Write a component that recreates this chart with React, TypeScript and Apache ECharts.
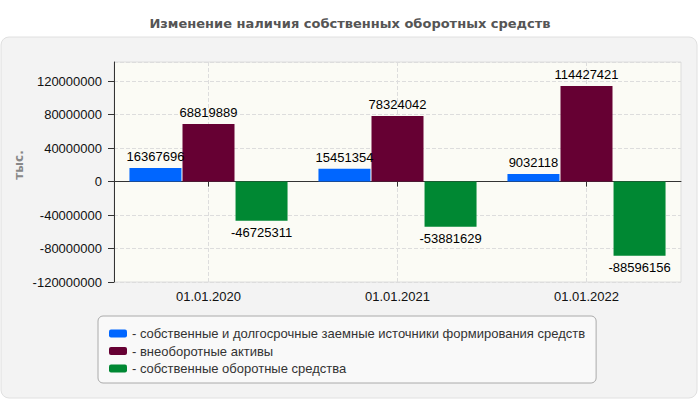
import { useEffect, useRef } from 'react'
import * as echarts from 'echarts'

// ---------- данные ----------
const categories = ['01.01.2020', '01.01.2021', '01.01.2022']

const seriesNames = [
  'собственные и долгосрочные заемные источники формирования средств',
  'внеоборотные активы',
  'собственные оборотные средства',
]

const ownAndLongTerm = [16367696, 15451354, 9032118]
const nonCurrentAssets = [68819889, 78324042, 114427421]
const ownWorkingCapital = [-46725311, -53881629, -88596156]

const COLORS = ['#0066ff', '#660033', '#008833']
const FONT = '"Liberation Sans", Arial, sans-serif'
const WIDE_FONT = '"DejaVu Sans", Verdana, sans-serif'

function toBarData(values: number[]) {
  return values.map((v) => ({
    value: v,
    label: { position: v < 0 ? ('bottom' as const) : ('top' as const) },
  }))
}

export default function App() {
  const ref = useRef<HTMLDivElement>(null)

  useEffect(() => {
    document.body.style.margin = '0'
    if (!ref.current) return
    const chart = echarts.init(ref.current, undefined, { renderer: 'svg' })

    const allValues = [ownAndLongTerm, nonCurrentAssets, ownWorkingCapital]

    const option: echarts.EChartsOption = {
      animation: false,
      backgroundColor: '#ffffff',
      textStyle: { fontFamily: FONT },
      title: {
        text: 'Изменение наличия собственных оборотных средств',
        left: 'center',
        top: 12,
        textStyle: {
          fontSize: 13,
          fontWeight: 'bold',
          color: '#555555',
          fontFamily: WIDE_FONT,
        },
      },
      graphic: [
        {
          type: 'rect',
          z: -100,
          silent: true,
          shape: { x: 1, y: 37, width: 696, height: 361, r: 8 },
          style: { fill: '#f3f3f3', stroke: '#e0e0e0', lineWidth: 1 },
        },
        {
          type: 'text',
          x: 19,
          y: 165,
          rotation: Math.PI / 2,
          style: {
            text: 'тыс.',
            fill: '#888888',
            font: `bold 12px ${WIDE_FONT}`,
            align: 'center',
            verticalAlign: 'middle',
          },
        },
      ],
      legend: {
        orient: 'vertical',
        left: 98,
        top: 316,
        padding: [11, 11, 8, 11],
        itemGap: 4.5,
        itemWidth: 18,
        itemHeight: 8,
        icon: 'roundRect',
        backgroundColor: '#f9f9f9',
        borderColor: '#aaaaaa',
        borderWidth: 1,
        borderRadius: 5,
        selectedMode: false,
        formatter: (name: string) => '- ' + name,
        textStyle: { color: '#333333', fontSize: 13, fontFamily: FONT },
      },
      grid: {
        left: 114,
        right: 19,
        top: 62,
        bottom: 118,
        show: true,
        backgroundColor: '#fbfbf5',
        borderColor: '#dddddd',
        borderWidth: 1,
      },
      xAxis: {
        type: 'category',
        data: categories,
        axisLine: { lineStyle: { color: '#333333', width: 1 } },
        axisTick: { show: true, alignWithLabel: true, length: 5, lineStyle: { color: '#333333' } },
        axisLabel: { color: '#111111', fontSize: 13, margin: 8, fontFamily: FONT },
        splitLine: {
          show: true,
          alignWithLabel: true,
          lineStyle: { color: '#dddddd', type: 'dashed' },
        } as any,
      },
      yAxis: {
        type: 'value',
        min: -120000000,
        max: 143000000,
        interval: 40000000,
        axisLine: { show: true, lineStyle: { color: '#333333', width: 1 } },
        axisTick: { show: true, length: 6, lineStyle: { color: '#333333' } },
        axisLabel: {
          color: '#111111',
          fontSize: 13,
          margin: 12,
          showMaxLabel: false,
          fontFamily: FONT,
          formatter: (v: number) => String(v),
        },
        splitLine: { lineStyle: { color: '#dddddd', type: 'dashed' } },
      },
      series: seriesNames.map((name, idx) => ({
        name,
        type: 'bar' as const,
        barWidth: 52,
        barGap: '2%',
        itemStyle: { color: COLORS[idx] },
        label: {
          show: true,
          color: '#000000',
          fontSize: 13,
          distance: 5,
          fontFamily: FONT,
        },
        data: toBarData(allValues[idx]),
      })),
    }

    chart.setOption(option)
    return () => chart.dispose()
  }, [])

  return (
    <div
      ref={ref}
      style={{ position: 'absolute', left: 0, top: 0, width: 700, height: 400 }}
    />
  )
}
